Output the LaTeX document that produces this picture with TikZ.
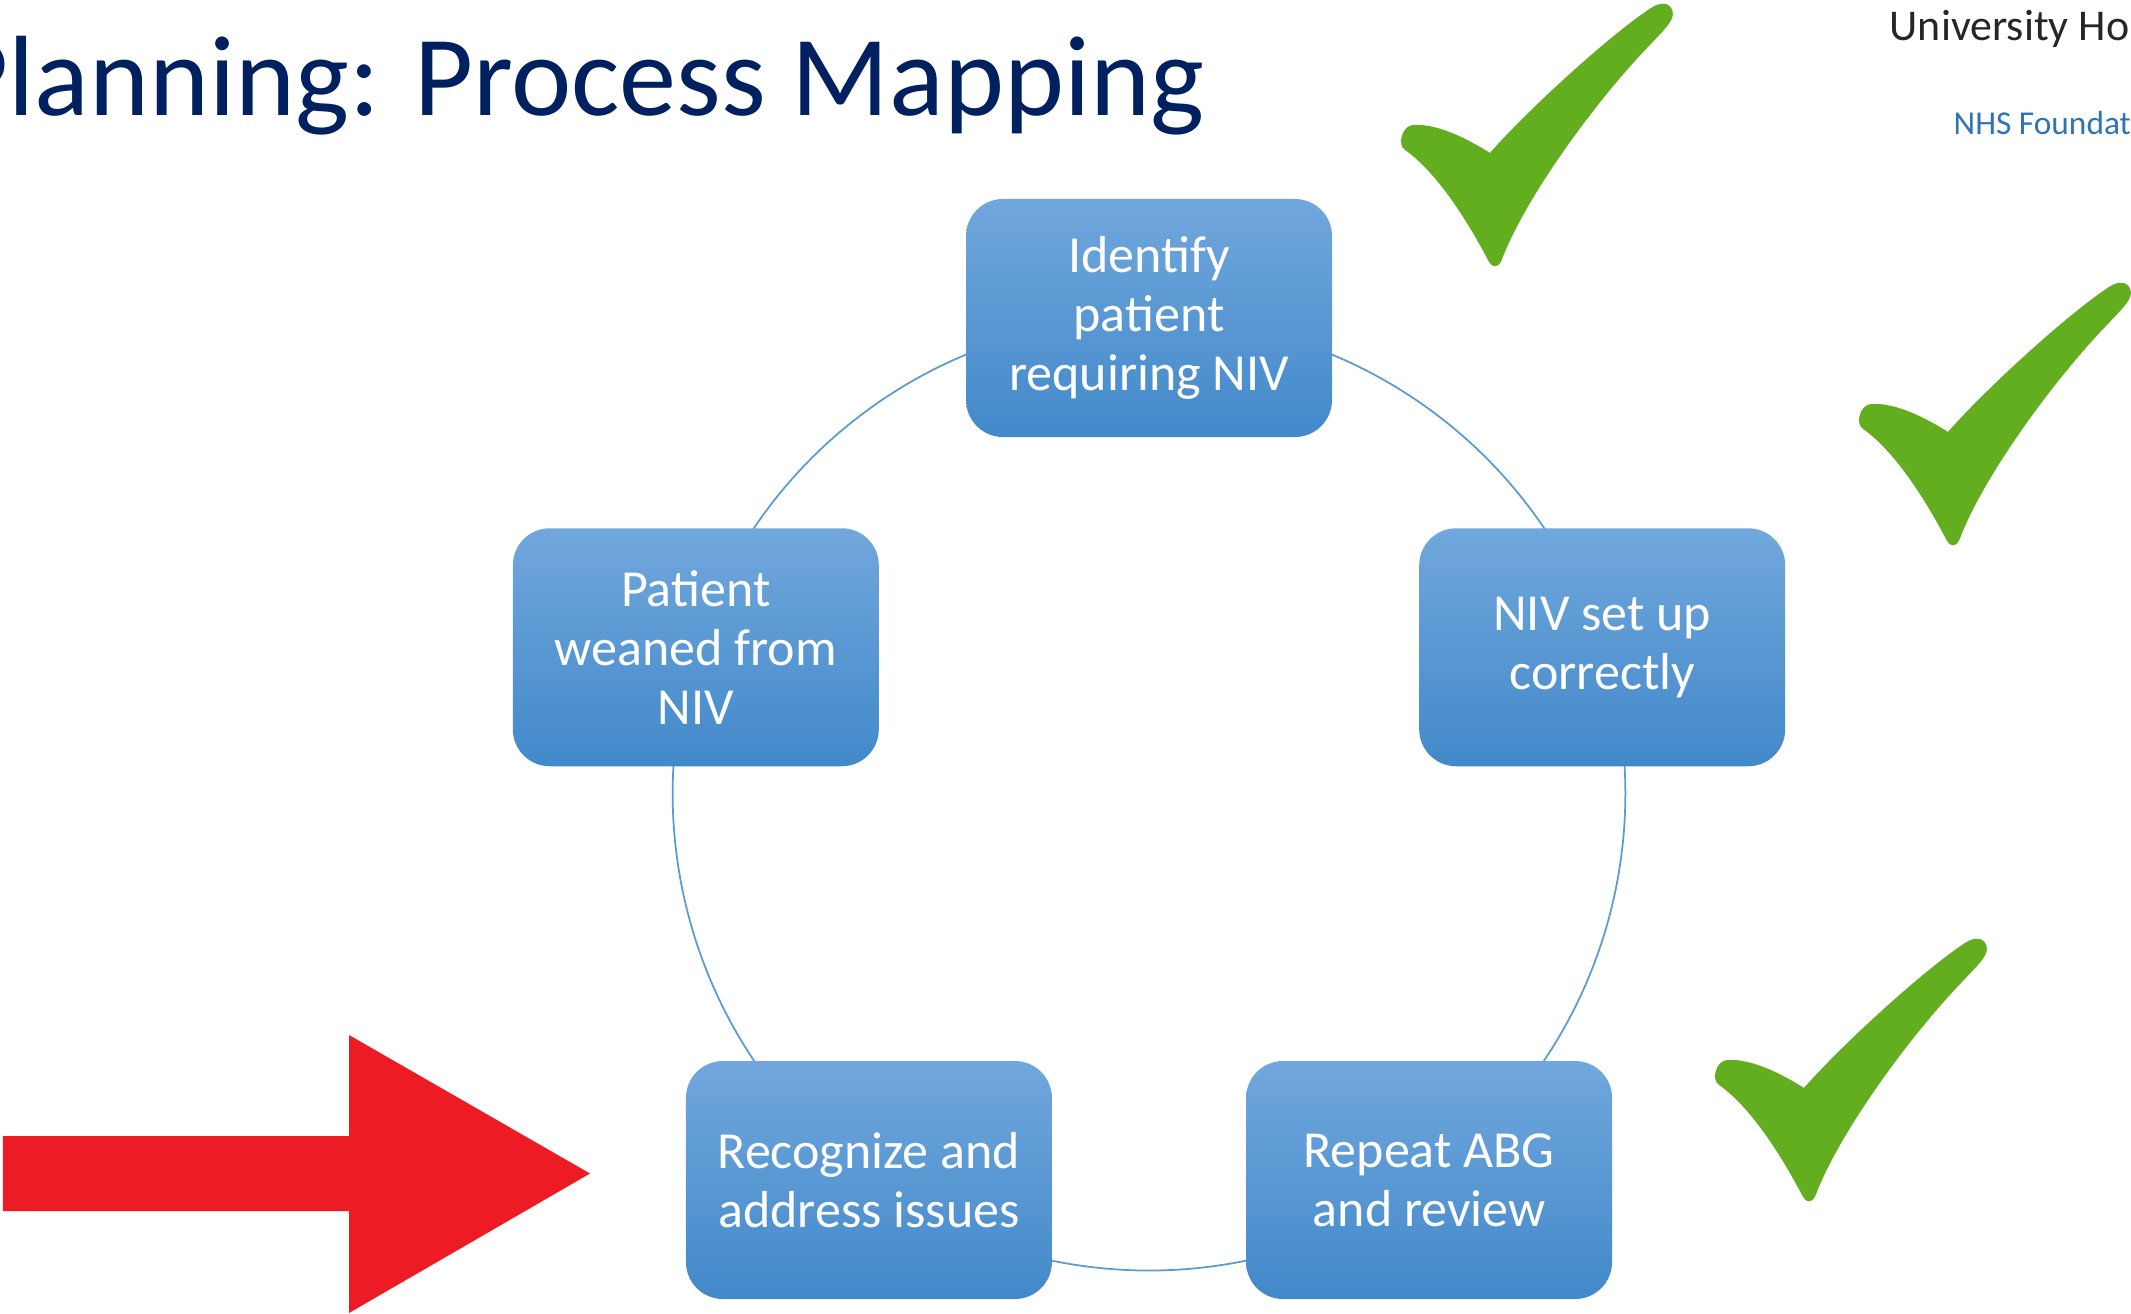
\documentclass[tikz,border=0pt]{standalone}
\usepackage{fontspec}
\setmainfont{Carlito}
\usetikzlibrary{backgrounds}

\definecolor{titleblue}{RGB}{0,32,96}
\definecolor{nhsblue}{RGB}{46,117,182}
\definecolor{boxtop}{RGB}{113,167,220}
\definecolor{boxbottom}{RGB}{66,137,202}
\definecolor{ringblue}{RGB}{91,155,213}
\definecolor{tickgreen}{RGB}{98,174,31}
\definecolor{arrowred}{RGB}{237,28,36}

\begin{document}
\begin{tikzpicture}[
    stepbox/.style={rounded corners=0.37cm, top color=boxtop, bottom color=boxbottom,
                    text=white, align=center, inner sep=0pt,
                    minimum width=3.66cm, minimum height=2.38cm,
                    font=\fontsize{14.8}{16.8}\selectfont},
    ring/.style={ringblue, line width=0.5pt},
    greencheck/.pic={
      \fill[tickgreen, x=0.01cm, y=-0.01cm]
        (0,140) .. controls (2,128) and (8,124) .. (18,125)
        .. controls (40,126) and (65,138) .. (89,153)
        .. controls (125,112) and (205,38) .. (250,8)
        .. controls (262,0) and (272,4) .. (272,14)
        .. controls (272,22) and (262,31) .. (250,44)
        .. controls (200,95) and (125,195) .. (100,262)
        .. controls (97,268) and (91,268) .. (88,262)
        .. controls (65,218) and (35,172) .. (4,150)
        .. controls (0,147) and (0,143) .. (0,140) -- cycle;
    }
  ]
  \useasboundingbox (0,0) rectangle (21.31,-13.14);
  \clip (0,0) rectangle (21.31,-13.14);

  % heading and trust name
  \node[anchor=base east, inner sep=0pt, text=titleblue,
        font=\fontsize{32.5}{39}\selectfont] (title) at (12.05,-1.155)
    {Planning: Process Mapping};
  \node[anchor=base west, inner sep=0pt, text=black!85,
        font=\fontsize{12.5}{15}\selectfont] (trust) at (18.89,-0.41) {University Ho};
  \node[anchor=base west, inner sep=0pt, text=nhsblue,
        font=\fontsize{9.5}{11}\selectfont] (nhs) at (19.53,-1.345) {NHS Foundat};

  % five steps round the cycle
  \begin{scope}[shift={(11.49,-7.945)}]
    \node[stepbox] (identify) at (90:4.765) {Identify\\patient\\requiring NIV};
    \node[stepbox] (setup) at (18:4.765) {NIV set up\\correctly};
    \node[stepbox] (abg) at (-54:4.765) {Repeat ABG\\and review};
    \node[stepbox] (issues) at (-126:4.765) {Recognize and\\address issues};
    \node[stepbox] (weaned) at (162:4.765) {Patient\\weaned from\\NIV};
  \end{scope}

  \begin{scope}[on background layer]
    \foreach \a/\b in {identify/setup, setup/abg, abg/issues, issues/weaned, weaned/identify}
      \draw[ring] (\a.center) to[bend left=36, looseness=0.94] (\b.center);
  \end{scope}

  % ticks for the steps done
  \pic at (14.01,0) {greencheck};
  \pic at (18.59,-2.79) {greencheck};
  \pic at (17.15,-9.35) {greencheck};

  % red pointer
  \fill[arrowred] (0.03,-11.36) -- (3.49,-11.36) -- (3.49,-10.35) -- (5.90,-11.735)
    -- (3.49,-13.13) -- (3.49,-12.11) -- (0.03,-12.11) -- cycle;
\end{tikzpicture}
\end{document}
